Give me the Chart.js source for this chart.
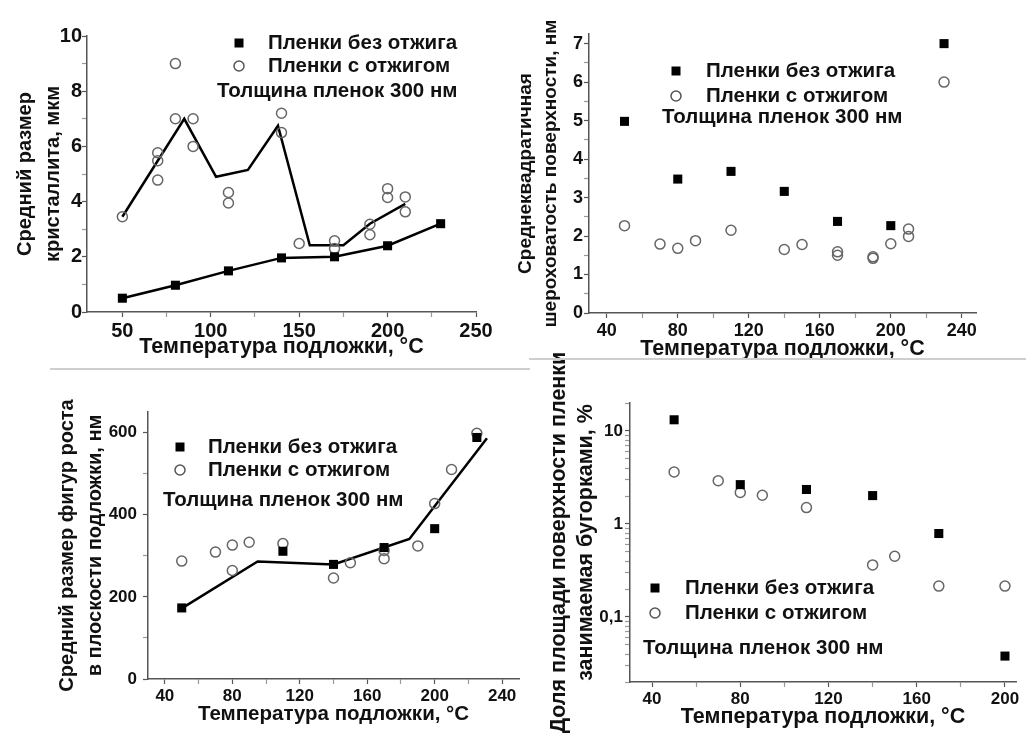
<!DOCTYPE html>
<html>
<head>
<meta charset="utf-8">
<script src="https://cdn.jsdelivr.net/npm/chart.js@4.4.1/dist/chart.umd.min.js"></script>
<style>
  body { margin: 0; background: #fff; }
  #wrap { position: relative; width: 1026px; height: 742px; overflow: hidden; }
  canvas { position: absolute; }
  .sep { position: absolute; height: 2px; background: #cfcfcf; }
</style>
</head>
<body>
<div id="wrap">
  <canvas id="c1" width="500" height="370" style="left:0;top:0"></canvas>
  <canvas id="c2" width="526" height="370" style="left:500px;top:0"></canvas>
  <canvas id="c3" width="530" height="372" style="left:0;top:370px"></canvas>
  <canvas id="c4" width="496" height="392" style="left:530px;top:350px"></canvas>
  <div class="sep" style="left:50px;top:368px;width:480px"></div>
  <div class="sep" style="left:529px;top:358px;width:497px"></div>
</div>
<script>
// ---- панель 1: средний размер кристаллита, мкм
const tempBare1 = [50, 80, 110, 140, 170, 200, 230];
const sizeBare1 = [0.5, 0.97, 1.49, 1.96, 2.0, 2.4, 3.2];
const tempAnn1 = [50, 70, 70, 70, 80, 80, 90, 90, 110, 110, 140, 140, 150, 170, 170, 190, 190, 200, 200, 210, 210];
const sizeAnn1 = [3.45, 5.77, 5.48, 4.78, 9.0, 7.0, 7.0, 6.0, 4.33, 3.95, 7.2, 6.5, 2.48, 2.58, 2.3, 3.18, 2.8, 4.47, 4.15, 4.17, 3.63];
const tempAnnLine1 = [50, 85, 103, 121, 138, 156, 175, 190, 210];
const sizeAnnLine1 = [3.45, 7.0, 4.9, 5.15, 6.75, 2.42, 2.42, 3.2, 3.92];
const xTicks1 = [50, 75, 100, 125, 150, 175, 200, 225, 250];
const yTicks1 = [0, 1, 2, 3, 4, 5, 6, 7, 8, 9, 10];

// ---- панель 2: среднеквадратичная шероховатость, нм
const tempBare2 = [50, 80, 110, 140, 170, 200, 230];
const rmsBare2 = [4.98, 3.48, 3.68, 3.16, 2.38, 2.27, 7.0];
const tempAnn2 = [50, 70, 80, 90, 110, 140, 150, 170, 170, 190, 190, 200, 210, 210, 230];
const rmsAnn2 = [2.27, 1.79, 1.68, 1.88, 2.15, 1.65, 1.78, 1.59, 1.5, 1.46, 1.42, 1.8, 2.18, 1.99, 6.0];
const xTicks2 = [40, 60, 80, 100, 120, 140, 160, 180, 200, 220, 240];
const yTicks2 = [0, 0.5, 1, 1.5, 2, 2.5, 3, 3.5, 4, 4.5, 5, 5.5, 6, 6.5, 7];

// ---- панель 3: размер фигур роста, нм
const tempBare3 = [50, 110, 140, 170, 200, 225];
const growBare3 = [173, 311, 279, 320, 366, 588];
const tempAnn3 = [50, 70, 80, 80, 90, 110, 140, 150, 170, 170, 190, 200, 210, 225];
const growAnn3 = [287, 309, 326, 264, 333, 330, 246, 283, 313, 293, 324, 427, 510, 598];
const tempLine3 = [50, 95, 140, 185, 231];
const growLine3 = [172, 286, 279, 341, 586];
const xTicks3 = [40, 60, 80, 100, 120, 140, 160, 180, 200, 220, 240];
const yTicks3 = [0, 100, 200, 300, 400, 500, 600];

// ---- панель 4: доля площади, занимаемая бугорками, %
const tempBare4 = [50, 80, 110, 140, 170, 200];
const areaBare4 = [13.2, 2.65, 2.35, 2.02, 0.79, 0.038];
const tempAnn4 = [50, 70, 80, 90, 110, 140, 150, 170, 200];
const areaAnn4 = [3.62, 2.92, 2.18, 2.04, 1.5, 0.363, 0.45, 0.215, 0.215];
const xTicks4 = [40, 60, 80, 100, 120, 140, 160, 180, 200];
const yMajor4 = [0.1, 1, 10];
const yTicks4 = [0.02, 0.03, 0.04, 0.05, 0.06, 0.07, 0.08, 0.09, 0.1,
  0.2, 0.3, 0.4, 0.5, 0.6, 0.7, 0.8, 0.9, 1, 2, 3, 4, 5, 6, 7, 8, 9, 10, 20];

const legendBare = "Пленки без отжига";
const legendAnn = "Пленки с отжигом";
const noteThick = "Толщина пленок 300 нм";
const xTitle = "Температура подложки, °C";

Chart.defaults.font.family = "'Liberation Sans', Arial, sans-serif";
Chart.defaults.font.weight = "bold";
Chart.defaults.color = "#111";

const pts = (xs, ys) => xs.map((x, i) => ({ x: x, y: ys[i] }));

// подписи-легенда внутри поля графика
const notesPlugin = {
  id: "notes",
  afterDraw(chart, args, opts) {
    const ctx = chart.ctx;
    ctx.save();
    ctx.font = "bold " + opts.size + "px 'Liberation Sans', Arial, sans-serif";
    ctx.textBaseline = "middle";
    ctx.textAlign = "left";
    const rows = [
      { m: "rect", t: legendBare, y: opts.y1 },
      { m: "circle", t: legendAnn, y: opts.y2 },
    ];
    rows.forEach((r) => {
      if (r.m === "rect") {
        ctx.fillStyle = "#000";
        ctx.fillRect(opts.mx - 4.5, r.y - 4.5, 9, 9);
      } else {
        ctx.strokeStyle = "#555";
        ctx.lineWidth = 1.5;
        ctx.beginPath();
        ctx.arc(opts.mx, r.y, 5, 0, Math.PI * 2);
        ctx.stroke();
      }
      ctx.fillStyle = "#111";
      ctx.fillText(r.t, opts.tx, r.y);
    });
    ctx.fillText(noteThick, opts.nx, opts.ny);
    ctx.restore();
  },
};

function axisX(min, max, ticks, major, size, height, pad, tsize) {
  return {
    type: "linear",
    min: min,
    max: max,
    afterBuildTicks: (s) => { s.ticks = ticks.map((v) => ({ value: v })); },
    afterFit: (s) => { s.height = height; },
    ticks: {
      autoSkip: false,
      maxRotation: 0,
      padding: 2,
      font: { size: size },
      color: "#111",
      callback: (v) => (major.includes(v) ? String(v) : ""),
    },
    grid: {
      drawOnChartArea: false,
      tickLength: 5,
      tickWidth: 1.2,
      tickColor: (c) => (c.tick && major.includes(c.tick.value) ? "#555" : "#999"),
    },
    border: { color: "#555", width: 1.5 },
    title: {
      display: true,
      text: xTitle,
      font: { size: tsize, lineHeight: 1.2 },
      color: "#111",
      padding: { top: 0, bottom: pad },
    },
  };
}

function axisY(min, max, ticks, major, label, size, width, tsize, lh, pad, tpad, type) {
  return {
    type: type || "linear",
    min: min,
    max: max,
    afterBuildTicks: (s) => { s.ticks = ticks.map((v) => ({ value: v })); },
    afterFit: (s) => { s.width = width; },
    ticks: {
      autoSkip: false,
      padding: tpad,
      font: { size: size },
      color: "#111",
      callback: (v) => {
        if (!major.includes(v)) return "";
        return String(v).replace(".", ",");
      },
    },
    grid: {
      drawOnChartArea: false,
      tickLength: 5,
      tickWidth: 1.2,
      tickColor: (c) => (c.tick && major.includes(c.tick.value) ? "#555" : "#999"),
    },
    border: { color: "#555", width: 1.5 },
    title: {
      display: true,
      text: label,
      font: { size: tsize, lineHeight: lh },
      color: "#111",
      padding: { top: pad, bottom: 0 },
    },
  };
}

const squares = (data) => ({
  data: data,
  pointStyle: "rect",
  pointRadius: 6.4,
  backgroundColor: "#000",
  borderColor: "#000",
  borderWidth: 0,
  order: 0,
});
const circles = (data) => ({
  data: data,
  pointStyle: "circle",
  pointRadius: 5,
  backgroundColor: "rgba(255,255,255,0)",
  borderColor: "#666",
  borderWidth: 1.5,
  order: 1,
});
const line = (data) => ({
  data: data,
  showLine: true,
  pointRadius: 0,
  borderColor: "#000",
  borderWidth: 2.5,
  order: 2,
});

function makeChart(id, datasets, scales, padding, notes) {
  return new Chart(document.getElementById(id), {
    type: "scatter",
    data: { datasets: datasets },
    options: {
      responsive: false,
      animation: false,
      layout: { padding: padding },
      plugins: { legend: { display: false }, tooltip: { enabled: false }, notes: notes },
      scales: scales,
    },
    plugins: [notesPlugin],
  });
}

// панель 1
makeChart(
  "c1",
  [
    line(pts(tempBare1, sizeBare1)),
    squares(pts(tempBare1, sizeBare1)),
    circles(pts(tempAnn1, sizeAnn1)),
    line(pts(tempAnnLine1, sizeAnnLine1)),
  ],
  {
    x: axisX(30, 250, xTicks1, [50, 100, 150, 200, 250], 20, 58, 10, 21.5),
    y: axisY(0, 10, yTicks1, [0, 2, 4, 6, 8, 10], ["Средний размер", "кристаллита, мкм"], 20, 87, 20, 1.4, 11, 0),
  },
  { top: 36, right: 24, bottom: 0, left: 0 },
  { size: 20.5, mx: 239, tx: 268, y1: 43, y2: 66, nx: 217, ny: 91 }
);

// панель 2
makeChart(
  "c2",
  [squares(pts(tempBare2, rmsBare2)), circles(pts(tempAnn2, rmsAnn2))],
  {
    x: axisX(30, 248, xTicks2, [40, 80, 120, 160, 200, 240], 18, 57, 8, 21.5),
    y: axisY(0, 7.25, yTicks2, [0, 1, 2, 3, 4, 5, 6, 7],
      ["Среднеквадратичная", "шероховатость поверхности, нм"], 18, 89, 19, 1.3, 13.5, 1),
  },
  { top: 34, right: 50, bottom: 0, left: 0 },
  { size: 20.5, mx: 176, tx: 206, y1: 71, y2: 96, nx: 162, ny: 117 }
);

// панель 3
makeChart(
  "c3",
  [
    squares(pts(tempBare3, growBare3)),
    circles(pts(tempAnn3, growAnn3)),
    line(pts(tempLine3, growLine3)),
  ],
  {
    x: axisX(30, 250, xTicks3, [40, 80, 120, 160, 200, 240], 17, 63, 15, 20.5),
    y: axisY(0, 650, yTicks3, [0, 200, 400, 600],
      ["Средний размер фигур роста", "в плоскости подложки, нм"], 17, 148, 20, 1.4, 53, 6),
  },
  { top: 42, right: 11, bottom: 0, left: 0 },
  { size: 20.5, mx: 180, tx: 208, y1: 77, y2: 100, nx: 163, ny: 130 }
);

// панель 4
makeChart(
  "c4",
  [squares(pts(tempBare4, areaBare4)), circles(pts(tempAnn4, areaAnn4))],
  {
    x: axisX(30, 205, xTicks4, [40, 80, 120, 160, 200], 17, 60, 12, 21.5),
    y: axisY(0.02, 20, yTicks4, yMajor4,
      ["Доля площади поверхности пленки", "занимаемая бугорками, %"], 17, 100, 21.5, 1.25, 15.5, 2, "logarithmic"),
  },
  { top: 53, right: 10, bottom: 0, left: 0 },
  { size: 20.5, mx: 125, tx: 155, y1: 238, y2: 263, nx: 113, ny: 298 }
);
</script>
</body>
</html>
